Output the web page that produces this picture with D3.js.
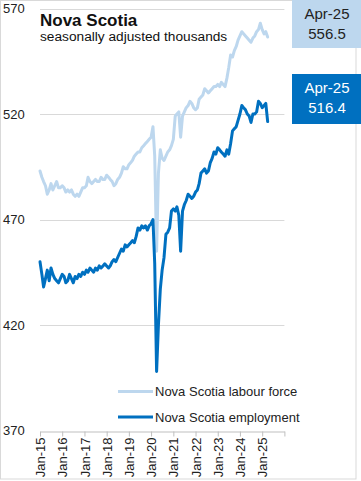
<!DOCTYPE html>
<html><head><meta charset="utf-8">
<script src="https://cdn.jsdelivr.net/npm/d3@7"></script>
<style>
body{margin:0;background:#fff;}
text{font-family:"Liberation Sans",Arial,sans-serif;}
</style></head>
<body><svg id="c" width="361" height="481"></svg>
<script>
// Monthly data Jan-2015 .. Apr-2025 (thousands, seasonally adjusted)
const labourForce = [
 493,490,488,486,482,484,487,484,486,488,485,485,
 486,485,483,484,483,484,482,481,482,481,483,485,
 485,486,490,488,487,488,489,488,488,490,489,489,
 491,490,489,488,486,487,489,490,492,495,494,494,
 496,497,498,500,501,502,502,504,505,506,507,508,
 509,514,500,455,492,503,499,498,500,502,503,505,
 508,519,520,521,509,519,521,523,524,526,525,523,
 522,523,527,528,529,532,531,530,531,532,533,533,
 534,533,535,534,533,537,542,548,547,550,552,555,
 557,559,558,557,556,555,554,556,557,559,560,563,
 560,558,559,556.5
];
const employment = [
 450,444,438,442,446,441,447,444,442,441,440,442,
 444,443,440,441,444,442,440,443,442,444,443,445,
 444,446,445,447,446,445,447,446,448,447,448,449,
 448,447,448,450,451,450,452,454,456,455,458,457,
 458,459,460,459,462,466,465,467,466,467,465,467,
 468,470,449,398,420,437,446,452,463,464,466,474,
 475,474,476,472,455,474,477,479,482,481,480,481,
 483,484,487,492,493,494,492,493,497,499,502,501,
 504,503,502,501,500,503,501,506,512,513,514,517,
 520,524,523,522,520,519,516,520,520,521,526,525,
 523,524,525,516.4
];
const yTicks = [370,420,470,520,570];
const tickYears = [2015,2016,2017,2018,2019,2020,2021,2022,2023,2024,2025,2026];
const seriesNames = ["Nova Scotia labour force","Nova Scotia employment"];
const colors = ["#BDD7EE","#0070C0"];
const lastLabel = "Apr-25";

const svg = d3.select("#c");
const dates = labourForce.map((d,i)=>new Date(2015, i, 1));

const x = d3.scaleTime().domain([new Date(2015,0,1), new Date(2026,0,1)]).range([40, 284.4]);
const y = d3.scaleLinear().domain([370,570]).range([430.5, 8.5]);

// border
svg.append("rect").attr("x",0.5).attr("y",0.5).attr("width",355.5).attr("height",478.5)
  .attr("fill","none").attr("stroke","#d9d9d9");

// gridlines
svg.append("g").selectAll("line").data(yTicks.slice(1)).join("line")
  .attr("x1",40).attr("x2",284.4).attr("y1",d=>Math.round(y(d))+0.5).attr("y2",d=>Math.round(y(d))+0.5)
  .attr("stroke","#d9d9d9").attr("stroke-width",1);

// y labels
svg.append("g").selectAll("text").data(yTicks).join("text")
  .attr("x",3).attr("y",d=>y(d)).attr("dy","0.35em")
  .attr("font-size",13).attr("fill","#222").text(d=>d);

// x axis
const fmt = d3.timeFormat("%b-%y");
const xAxis = d3.axisBottom(x)
  .tickValues(tickYears.map(yr=>new Date(yr,0,1)))
  .tickSize(5).tickSizeOuter(0)
  .tickFormat(d=>d.getFullYear()===2026 ? "" : fmt(d));
const gx = svg.append("g").attr("transform",`translate(0,${Math.round(y(370))+0.5})`).call(xAxis);
gx.select(".domain").attr("stroke","#bfbfbf");
gx.selectAll(".tick line").attr("stroke","#bfbfbf");
gx.selectAll(".tick text")
  .attr("font-family","Liberation Sans, Arial, sans-serif")
  .attr("font-size",13).attr("fill","#222")
  .attr("text-anchor","end")
  .attr("transform","rotate(-90)")
  .attr("x",-6).attr("y",0).attr("dy","0.35em");

// lines
const line = d3.line().x((d,i)=>x(dates[i])).y(d=>y(d)).curve(d3.curveLinear);
[labourForce, employment].forEach((s,k)=>{
  svg.append("path").datum(s).attr("d",line).attr("fill","none")
    .attr("stroke",colors[k]).attr("stroke-width",3).attr("stroke-linejoin","round").attr("stroke-linecap","round");
});

// title
svg.append("text").attr("x",40).attr("y",26).attr("font-size",17).attr("font-weight","bold").attr("fill","#111").text("Nova Scotia");
svg.append("text").attr("x",40).attr("y",41).attr("font-size",13.7).attr("fill","#111").text("seasonally adjusted thousands");

// end-value boxes
const boxes = [
  {y0:0, h:48, fill:colors[0], tc:"#222", v:labourForce[labourForce.length-1]},
  {y0:74, h:50, fill:colors[1], tc:"#fff", v:employment[employment.length-1]}
];
boxes.forEach(b=>{
  svg.append("rect").attr("x",292).attr("y",b.y0).attr("width",69).attr("height",b.h).attr("fill",b.fill);
  svg.append("text").attr("x",327).attr("y",b.y0+19).attr("text-anchor","middle").attr("font-size",15).attr("fill",b.tc).text(lastLabel);
  svg.append("text").attr("x",327).attr("y",b.y0+39).attr("text-anchor","middle").attr("font-size",15).attr("fill",b.tc).text(d3.format(".1f")(b.v));
});

// legend
const lg = svg.append("g");
seriesNames.forEach((n,k)=>{
  const ly = 391.5 + k*25.5;
  lg.append("line").attr("x1",118).attr("x2",153).attr("y1",ly).attr("y2",ly).attr("stroke",colors[k]).attr("stroke-width",3);
  lg.append("text").attr("x",155).attr("y",ly).attr("dy","0.35em").attr("font-size",13).attr("fill","#222").text(n);
});
</script>
</body></html>
